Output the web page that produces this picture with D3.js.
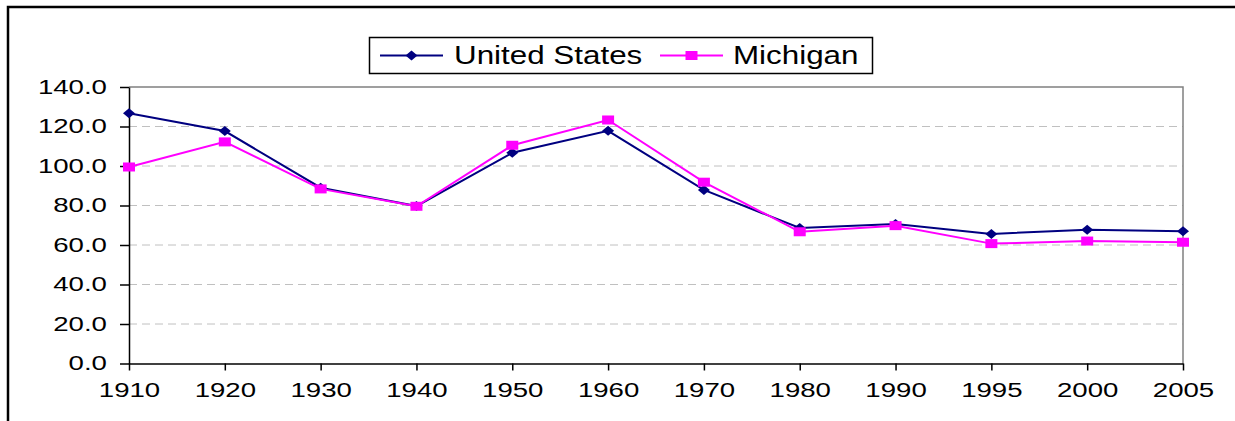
<!DOCTYPE html>
<html>
<head>
<meta charset="utf-8">
<script src="https://cdn.jsdelivr.net/npm/d3@7"></script>
<style>
  body { margin: 0; background: #fff; }
  svg { display: block; }
  text { font-family: "Liberation Sans", Arial, sans-serif; fill: #000; }
</style>
</head>
<body>
<svg id="svg" width="1235" height="421"></svg>
<script>
let years = ["1910", "1920", "1930", "1940", "1950", "1960", "1970", "1980", "1990", "1995", "2000", "2005"];
let usValues = [126.7, 117.7, 89.0, 79.7, 106.7, 117.8, 87.9, 68.6, 70.6, 65.6, 67.7, 66.9];
let miValues = [99.5, 112.2, 88.4, 79.6, 110.5, 123.3, 91.8, 66.7, 69.8, 60.7, 62.0, 61.4];
let yTicks = [0, 20, 40, 60, 80, 100, 120, 140];
let seriesNames = ["United States", "Michigan"];

const US_COLOR = "#000080";
const MI_COLOR = "#ff00ff";
const STRETCH = 1.38;   // the picture is stretched sideways

let svg = d3.select("#svg");

const plot = { left: 129, right: 1183, top: 87, bottom: 363.5 };

let xScale = d3.scalePoint().domain(years).range([plot.left, plot.right]).padding(0);
let yScale = d3.scaleLinear().domain([0, 140]).range([plot.bottom, plot.top]);

// outer frame (only top and left edges show)
svg.append("path")
    .attr("d", `M8,421 V7 H1235`)
    .attr("fill", "none")
    .attr("stroke", "#000")
    .attr("stroke-width", 2.5);

// gridlines
svg.append("g")
    .selectAll("line")
    .data(yTicks.filter(d => d > 0 && d < 140))
    .join("line")
    .attr("x1", plot.left)
    .attr("x2", plot.right)
    .attr("y1", d => yScale(d))
    .attr("y2", d => yScale(d))
    .attr("stroke", "#c0c0c0")
    .attr("stroke-dasharray", "8,5");

// gray top/right border of plot area
svg.append("path")
    .attr("d", `M${plot.left},${plot.top} H${plot.right} V${plot.bottom}`)
    .attr("fill", "none")
    .attr("stroke", "#808080")
    .attr("stroke-width", 1.5);

// axes
let yAxis = svg.append("g")
    .attr("transform", `translate(${plot.left},0)`)
    .call(d3.axisLeft(yScale).tickValues(yTicks).tickFormat(d3.format(".1f")).tickSize(9).tickSizeOuter(0).tickPadding(7));

let xAxis = svg.append("g")
    .attr("transform", `translate(0,${plot.bottom})`)
    .call(d3.axisBottom(xScale).tickSize(7).tickSizeOuter(0).tickPadding(12));

[xAxis, yAxis].forEach(ax => {
    ax.selectAll("path, line").attr("stroke", "#000").attr("stroke-width", 1.5);
    ax.selectAll("text")
        .style("font-size", "20px")
        .style("font-family", "'Liberation Sans', Arial, sans-serif")
        .attr("fill", "#000");
});
yAxis.selectAll("text").attr("x", -16).attr("transform", `scale(${STRETCH},1)`);
xAxis.selectAll("text").attr("transform", `scale(${STRETCH},1)`);

// series
let line = d3.line()
    .x((d, i) => xScale(years[i]))
    .y(d => yScale(d));

function diamond(g, color) {
    g.append("path")
        .attr("d", "M-6,0 L0,-5 L6,0 L0,5 Z")
        .attr("fill", color);
}
function square(g, color) {
    g.append("rect")
        .attr("x", -6).attr("y", -4.5)
        .attr("width", 12).attr("height", 9)
        .attr("fill", color);
}

function drawSeries(values, color, marker) {
    svg.append("path")
        .datum(values)
        .attr("d", line)
        .attr("fill", "none")
        .attr("stroke", color)
        .attr("stroke-width", 2);
    svg.append("g")
        .selectAll("g")
        .data(values)
        .join("g")
        .attr("transform", (d, i) => `translate(${xScale(years[i])},${yScale(d)})`)
        .each(function () { marker(d3.select(this), color); });
}

drawSeries(usValues, US_COLOR, diamond);
drawSeries(miValues, MI_COLOR, square);

// legend
let legend = svg.append("g");
legend.append("rect")
    .attr("x", 369.5).attr("y", 37.5)
    .attr("width", 503).attr("height", 36)
    .attr("fill", "#fff")
    .attr("stroke", "#000")
    .attr("stroke-width", 1.5);

let legendItems = [
    { name: seriesNames[0], color: US_COLOR, marker: diamond, x0: 380, textX: 454 },
    { name: seriesNames[1], color: MI_COLOR, marker: square, x0: 660, textX: 733 }
];
legendItems.forEach(item => {
    legend.append("line")
        .attr("x1", item.x0).attr("x2", item.x0 + 63)
        .attr("y1", 55.5).attr("y2", 55.5)
        .attr("stroke", item.color)
        .attr("stroke-width", 2);
    let m = legend.append("g").attr("transform", `translate(${item.x0 + 31.5},55.5)`);
    item.marker(m, item.color);
    legend.append("g")
        .attr("transform", `translate(${item.textX},64) scale(1.23,1)`)
        .append("text")
        .style("font-size", "25.5px")
        .text(item.name);
});
</script>
</body>
</html>
